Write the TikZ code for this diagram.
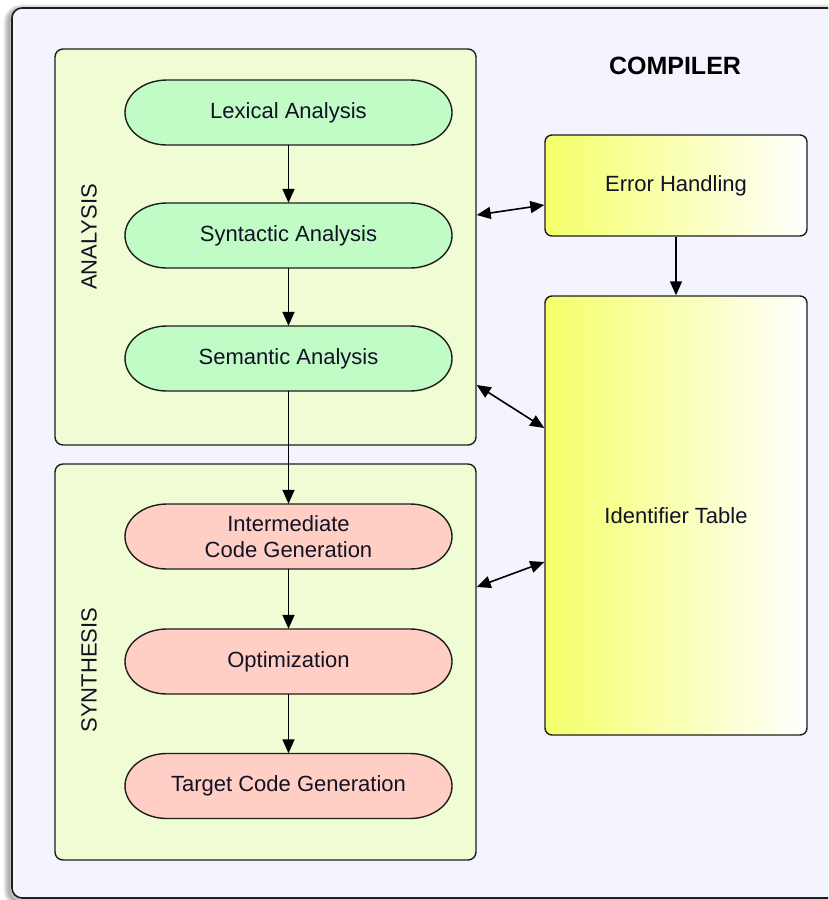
\documentclass[tikz,border=0pt]{standalone}
\usepackage{fontspec}
\setmainfont{Liberation Sans}
\usetikzlibrary{arrows.meta}

\definecolor{framebg}{RGB}{244,244,254}
\definecolor{groupbg}{RGB}{239,252,212}
\definecolor{stagegreen}{RGB}{193,252,199}
\definecolor{stagepink}{RGB}{255,207,198}
\definecolor{sideyellow}{RGB}{244,255,105}
\definecolor{textcol}{RGB}{18,18,36}
\definecolor{edgecol}{RGB}{30,30,30}

\tikzset{
  groupbox/.style={draw=edgecol, line width=1.4pt, fill=groupbg, rounded corners=8pt, inner sep=0pt},
  stagetext/.style={font=\fontsize{22}{26}\selectfont, text=textcol, align=center,
                    minimum width=327pt, minimum height=65pt, inner sep=0pt},
  stageoutline/.style={draw=edgecol, line width=1.4pt, fill=#1},
  sidebox/.style={draw=edgecol, line width=1.4pt, rounded corners=7pt,
                  left color=sideyellow, right color=white, inner sep=0pt,
                  minimum width=262pt, font=\fontsize{22}{26}\selectfont, text=textcol},
  grouplabel/.style={rotate=90, font=\fontsize{22}{26}\selectfont, text=textcol},
  flow/.style={line width=1.6pt, -{Triangle[length=14pt,width=12pt]}},
  link/.style={line width=1.6pt, {Triangle[length=14pt,width=12pt]}-{Triangle[length=14pt,width=12pt]}}
}

% name, centre y, fill colour, label
\newcommand\drawstage[4]{%
  \path[stageoutline=#3] (167,{#2-32.5}) -- (410,{#2-32.5})
     arc[start angle=-90, end angle=90, x radius=42, y radius=32.5]
     -- (167,{#2+32.5})
     arc[start angle=90, end angle=270, x radius=42, y radius=32.5] -- cycle;
  \node[stagetext] (#1) at (288.5,#2) {#4};
}

\begin{document}
\begin{tikzpicture}[x=1pt, y=-1pt]
  \clip (0,0) rectangle (828,900);

  % soft shadow and outer frame
  \foreach \k in {1,...,7}
    \draw[black, opacity=0.05, line width=\k*1.6pt, rounded corners=12pt]
      (9,10) rectangle (850,902);
  \draw[draw=edgecol, line width=1.6pt, fill=framebg, rounded corners=10pt]
    (12,8) rectangle (850,898);

  \node[font=\bfseries\fontsize{25}{28}\selectfont, text=black] (title) at (675,66) {COMPILER};

  % the two phases
  \node[groupbox, minimum width=421pt, minimum height=396pt] (analysis) at (265.5,247) {};
  \node[groupbox, minimum width=421pt, minimum height=396pt] (synthesis) at (265.5,662) {};
  \node[grouplabel] (analysislabel) at (89,237) {ANALYSIS};
  \node[grouplabel] (synthesislabel) at (89,670) {SYNTHESIS};

  % compiler stages
  \drawstage{lex}{112.5}{stagegreen}{Lexical Analysis}
  \drawstage{syn}{235.5}{stagegreen}{Syntactic Analysis}
  \drawstage{sem}{358.5}{stagegreen}{Semantic Analysis}
  \drawstage{inter}{536.5}{stagepink}{Intermediate\\Code Generation}
  \drawstage{opt}{661.5}{stagepink}{Optimization}
  \drawstage{target}{786}{stagepink}{Target Code Generation}

  % support components
  \node[sidebox, minimum height=101pt] (errh) at (676,185.5) {Error Handling};
  \node[sidebox, minimum height=439pt] (idtab) at (676,515.5) {Identifier Table};

  % flow through the stages
  \draw[flow] (lex) -- (syn);
  \draw[flow] (syn) -- (sem);
  \draw[flow] (sem) -- (inter);
  \draw[flow] (inter) -- (opt);
  \draw[flow] (opt) -- (target);
  \draw[flow] (errh) -- (idtab);

  % links between the phases and the support components
  \draw[link] ([yshift=32pt]analysis.east) -- ([yshift=-19.5pt]errh.west);
  \draw[link] ([yshift=-138pt]analysis.east) -- ([yshift=87.5pt]idtab.west);
  \draw[link] ([yshift=75pt]synthesis.east) -- ([yshift=-46.5pt]idtab.west);
\end{tikzpicture}
\end{document}
